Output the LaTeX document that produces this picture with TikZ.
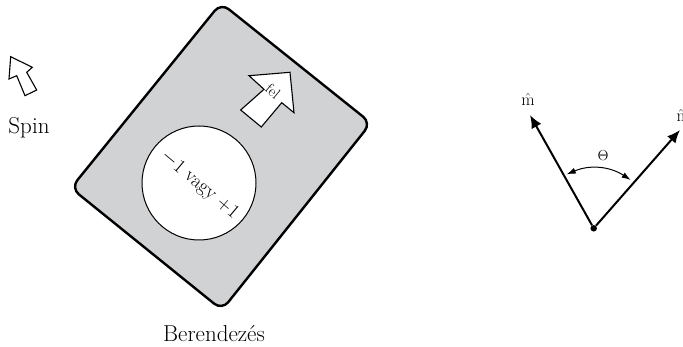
\documentclass[tikz,border=0pt]{standalone}
\usepackage{amsmath,amssymb}
\usetikzlibrary{arrows.meta}
\definecolor{PanelGray}{RGB}{208,210,212}
\tikzset{
  panel/.style={draw=black,fill=PanelGray,line width=2.4pt,rounded corners=10pt},
  whiteshape/.style={draw=black,fill=white,line width=1.1pt,line join=miter},
  lab/.style={inner sep=0pt,font=\fontsize{23}{26}\selectfont},
  vec/.style={draw=black,line width=2pt,-{Latex[length=13pt,width=11pt]}},
  dot/.style={circle,fill=black,inner sep=0pt,minimum size=6.5pt},
  ang/.style={draw=black,line width=1pt,{Latex[length=9pt,width=6pt]}-{Latex[length=9pt,width=6pt]}},
}
\begin{document}
\begin{tikzpicture}[x=1pt,y=-1pt]
  \useasboundingbox (0,0) rectangle (683,347);
  % spin
  \draw[whiteshape] (10.7,56.7)--(32.3,67.3)--(26.7,72.3)--(36.7,90)--(25,95.7)--(16.7,75.7)--(9,79)--cycle;
  \node[lab] (spin) at (29,128) {Spin};
  % device
  \draw[panel] (221,3)--(371,123)--(222,310)--(71,188)--cycle;
  \node[whiteshape,circle,minimum size=114pt,inner sep=0pt,line width=1pt] (disk) at (199,183) {};
  \node[lab,rotate=-40,font=\fontsize{19.5}{22}\selectfont] (val) at (199.5,185) {$-$1 vagy +1};
  \draw[whiteshape] (290,72.3)--(249,75.7)--(264,89.3)--(240.7,110)--(261.3,127)--(281.7,102.7)--(294,112.7)--cycle;
  \node[lab,rotate=-40,font=\fontsize{15}{17}\selectfont] (up) at (273,91) {fel};
  \node[lab] (dev) at (214,334) {Berendezés};
  % vectors
  \node[dot] (o) at (593.7,228.3) {};
  \coordinate (m) at (530,115);
  \coordinate (n) at (680,130);
  \coordinate (a) at (566.7,174.3);
  \coordinate (b) at (630.7,180);
  \draw[vec] (o)--(m);
  \draw[vec] (o)--(n);
  \draw[ang] (a) to[bend left=28] (b);
  \node[lab,font=\fontsize{19}{22}\selectfont] (mlab) at (528,100) {$\hat{\mathrm{m}}$};
  \node[lab,font=\fontsize{19}{22}\selectfont] (nlab) at (681,116) {$\hat{\mathrm{n}}$};
  \node[lab,font=\fontsize{15}{17}\selectfont] (th) at (603,156) {$\Theta$};
\end{tikzpicture}
\end{document}
